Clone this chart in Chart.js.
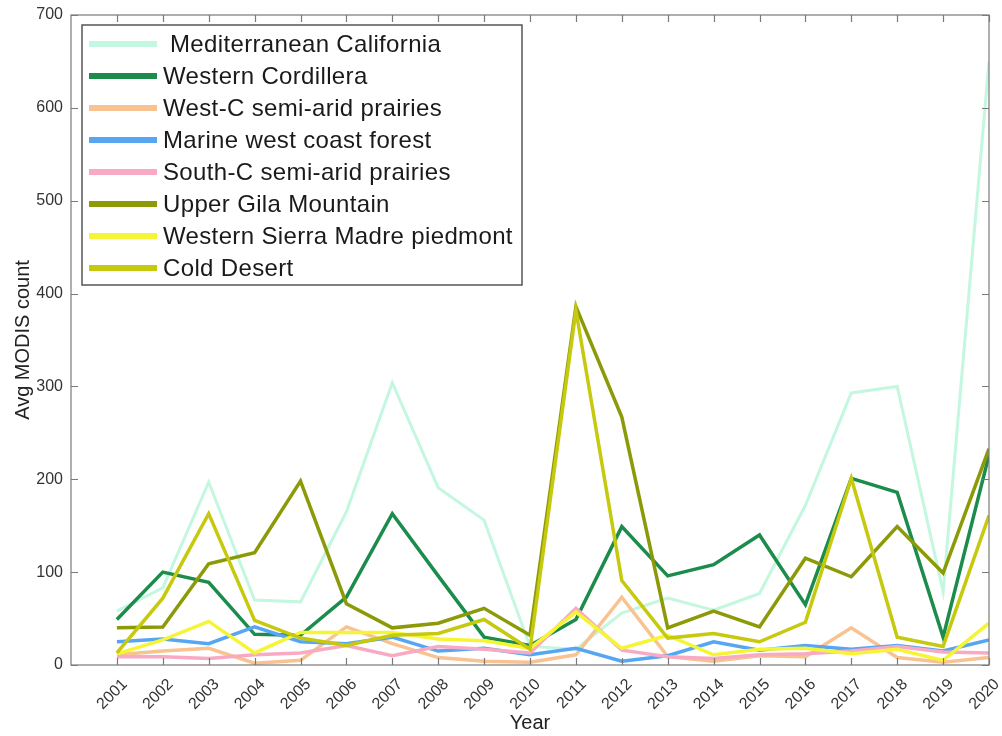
<!DOCTYPE html>
<html>
<head>
<meta charset="utf-8">
<script src="https://cdn.jsdelivr.net/npm/chart.js@4/dist/chart.umd.min.js"></script>
<style>
  html, body { margin: 0; padding: 0; background: #fff; }
  #wrap { width: 1002px; height: 736px; }
</style>
</head>
<body>
<div id="wrap"><canvas id="chart" width="1002" height="736"></canvas></div>
<script>
const years = [2001, 2002, 2003, 2004, 2005, 2006, 2007, 2008, 2009, 2010,
               2011, 2012, 2013, 2014, 2015, 2016, 2017, 2018, 2019, 2020];
const yTicks = [0, 100, 200, 300, 400, 500, 600, 700];

const mediterraneanCalifornia = [58, 83, 197, 70, 68, 165, 304, 191, 156, 20, 17, 56, 72, 59, 77, 172, 293, 300, 79, 650];
const westernCordillera = [49, 100, 89, 33, 32, 73, 163, 96, 30, 21, 49, 149, 96, 108, 140, 65, 201, 186, 30, 226];
const westCPrairies = [11, 15, 18, 2, 5, 41, 23, 8, 4, 3, 11, 73, 9, 4, 10, 9, 40, 8, 3, 8];
const marineWestCoast = [25, 28, 23, 41, 25, 23, 30, 15, 18, 11, 18, 4, 10, 25, 16, 21, 17, 21, 15, 27];
const southCPrairies = [9, 9, 7, 11, 13, 21, 10, 20, 17, 13, 61, 16, 9, 7, 11, 12, 15, 20, 14, 13];
const upperGila = [40, 41, 109, 121, 198, 66, 40, 45, 61, 32, 386, 267, 40, 58, 41, 115, 95, 149, 99, 233];
const sierraMadre = [12, 27, 47, 13, 35, 35, 35, 28, 26, 18, 57, 18, 32, 11, 17, 18, 12, 17, 5, 45];
const coldDesert = [13, 72, 163, 48, 29, 21, 32, 34, 49, 17, 382, 91, 29, 34, 25, 46, 201, 30, 20, 161];

const seriesNames = [
    ' Mediterranean California',
    'Western Cordillera',
    'West-C semi-arid prairies',
    'Marine west coast forest',
    'South-C semi-arid prairies',
    'Upper Gila Mountain',
    'Western Sierra Madre piedmont',
    'Cold Desert',
];
const seriesValues = [mediterraneanCalifornia, westernCordillera, westCPrairies, marineWestCoast,
                      southCPrairies, upperGila, sierraMadre, coldDesert];
const seriesColors = ['#c4f7df', '#1b8c4c', '#f8c291', '#56a6f4', '#f8aac4', '#8c9a08', '#f6f535', '#c6c90d'];

const FONT = '"Liberation Sans", Arial, sans-serif';
const AXIS_GRAY = '#7a7a7a';

// frame + inward tick marks, like the matlab box
const framePlugin = {
    id: 'frame',
    afterDatasetsDraw(chart) {
        const { ctx, chartArea: a, scales } = chart;
        ctx.save();
        ctx.strokeStyle = AXIS_GRAY;
        ctx.lineWidth = 1.2;
        ctx.strokeRect(a.left, a.top, a.right - a.left, a.bottom - a.top);
        ctx.beginPath();
        years.forEach(yr => {
            const px = Math.round(scales.x.getPixelForValue(yr)) + 0.5;
            ctx.moveTo(px, a.bottom);
            ctx.lineTo(px, a.bottom - 7);
            ctx.moveTo(px, a.top);
            ctx.lineTo(px, a.top + 7);
        });
        yTicks.forEach(v => {
            const py = Math.round(scales.y.getPixelForValue(v)) + 0.5;
            ctx.moveTo(a.left, py);
            ctx.lineTo(a.left + 7, py);
            ctx.moveTo(a.right, py);
            ctx.lineTo(a.right - 7, py);
        });
        ctx.stroke();
        ctx.restore();
    },
};

// legend box drawn inside the plot, top-left
const legendBoxPlugin = {
    id: 'legendBox',
    afterDraw(chart) {
        const { ctx } = chart;
        const left = 82, top = 25, width = 440, height = 260;
        const rowH = 32;
        ctx.save();
        ctx.fillStyle = '#fff';
        ctx.fillRect(left, top, width, height);
        ctx.strokeStyle = '#555';
        ctx.lineWidth = 1.5;
        ctx.strokeRect(left, top, width, height);
        ctx.font = '24px ' + FONT;
        ctx.letterSpacing = '0.35px';
        ctx.textBaseline = 'middle';
        chart.data.datasets.forEach((ds, i) => {
            const y = top + 19 + i * rowH;
            ctx.strokeStyle = ds.borderColor;
            ctx.lineWidth = 6;
            ctx.beginPath();
            ctx.moveTo(89, y);
            ctx.lineTo(157, y);
            ctx.stroke();
            ctx.fillStyle = '#1a1a1a';
            ctx.fillText(ds.label, 163, y + 1);
        });
        ctx.restore();
    },
};

const datasets = seriesNames.map((name, i) => ({
    label: name,
    data: years.map((yr, k) => ({ x: yr, y: seriesValues[i][k] })),
    borderColor: seriesColors[i],
    backgroundColor: seriesColors[i],
    borderWidth: i === 0 ? 3 : 3.5,
    pointRadius: 0,
    tension: 0,
    fill: false,
    // later series on top, as in the original
    order: seriesNames.length - i,
}));

new Chart(document.getElementById('chart'), {
    type: 'line',
    data: { datasets },
    options: {
        responsive: false,
        animation: false,
        devicePixelRatio: 1,
        layout: { padding: { top: 15, right: 13, left: 0, bottom: 0 } },
        plugins: {
            legend: { display: false },
            tooltip: { enabled: false },
        },
        scales: {
            x: {
                type: 'linear',
                min: 2000,
                max: 2020,
                grid: { display: false },
                border: { display: false },
                afterBuildTicks(scale) {
                    scale.ticks = years.map(v => ({ value: v }));
                },
                afterFit(scale) {
                    scale.height = 71;
                    scale.paddingLeft = 0;
                    scale.paddingRight = 0;
                },
                ticks: {
                    minRotation: 45,
                    maxRotation: 45,
                    padding: 2,
                    labelOffset: 8,
                    color: '#333',
                    font: { family: FONT, size: 16 },
                    callback: v => String(v),
                },
                title: {
                    display: true,
                    text: 'Year',
                    color: '#222',
                    font: { family: FONT, size: 20 },
                    padding: { top: 0, bottom: 1 },
                },
            },
            y: {
                min: 0,
                max: 700,
                grid: { display: false },
                border: { display: false },
                afterBuildTicks(scale) {
                    scale.ticks = yTicks.map(v => ({ value: v }));
                },
                afterFit(scale) {
                    scale.width = 71;
                },
                ticks: {
                    padding: 0,
                    color: '#333',
                    font: { family: FONT, size: 16 },
                },
                title: {
                    display: true,
                    text: 'Avg MODIS count',
                    color: '#222',
                    font: { family: FONT, size: 20 },
                    padding: { top: 11, bottom: 0 },
                },
            },
        },
    },
    plugins: [framePlugin, legendBoxPlugin],
});
</script>
</body>
</html>
